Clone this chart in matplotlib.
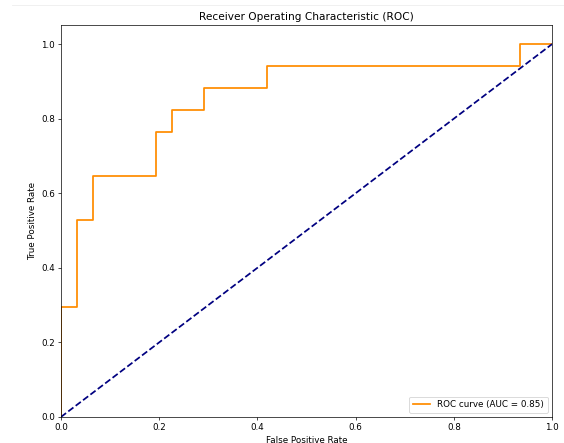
import matplotlib
matplotlib.use("Agg")
import matplotlib.pyplot as plt
from matplotlib.lines import Line2D

# ROC points
fpr = [0.0, 0.0, 0.0323, 0.0323, 0.0645, 0.0645, 0.1935, 0.1935, 0.2258, 0.2258,
       0.2903, 0.2903, 0.4194, 0.4194, 0.9355, 0.9355, 1.0]
tpr = [0.0, 0.2941, 0.2941, 0.5294, 0.5294, 0.6471, 0.6471, 0.7647, 0.7647, 0.8235,
       0.8235, 0.8824, 0.8824, 0.9412, 0.9412, 1.0, 1.0]
roc_auc = 0.85
chance = [0.0, 1.0]

DPI = 62.9
fig = plt.figure(figsize=(564 / DPI, 443 / DPI), dpi=DPI)
ax = fig.add_axes([0.108, 0.0587, 0.871, 0.884])

ax.plot(fpr, tpr, color='darkorange', lw=2, label=f'ROC curve (AUC = {roc_auc:.2f})')
ax.plot(chance, chance, color='navy', lw=2, linestyle='--')
ax.set_xlim([0.0, 1.0])
ax.set_ylim([0.0, 1.05])
ax.set_xlabel('False Positive Rate')
ax.set_ylabel('True Positive Rate')
ax.set_title('Receiver Operating Characteristic (ROC)')
ax.legend(loc='lower right')

# faint notebook cell separator at the top
fig.add_artist(Line2D([0.021, 1.0], [0.989, 0.989], transform=fig.transFigure,
                      color='#eeeeee', lw=1))

plt.savefig('out.png', dpi=DPI)
